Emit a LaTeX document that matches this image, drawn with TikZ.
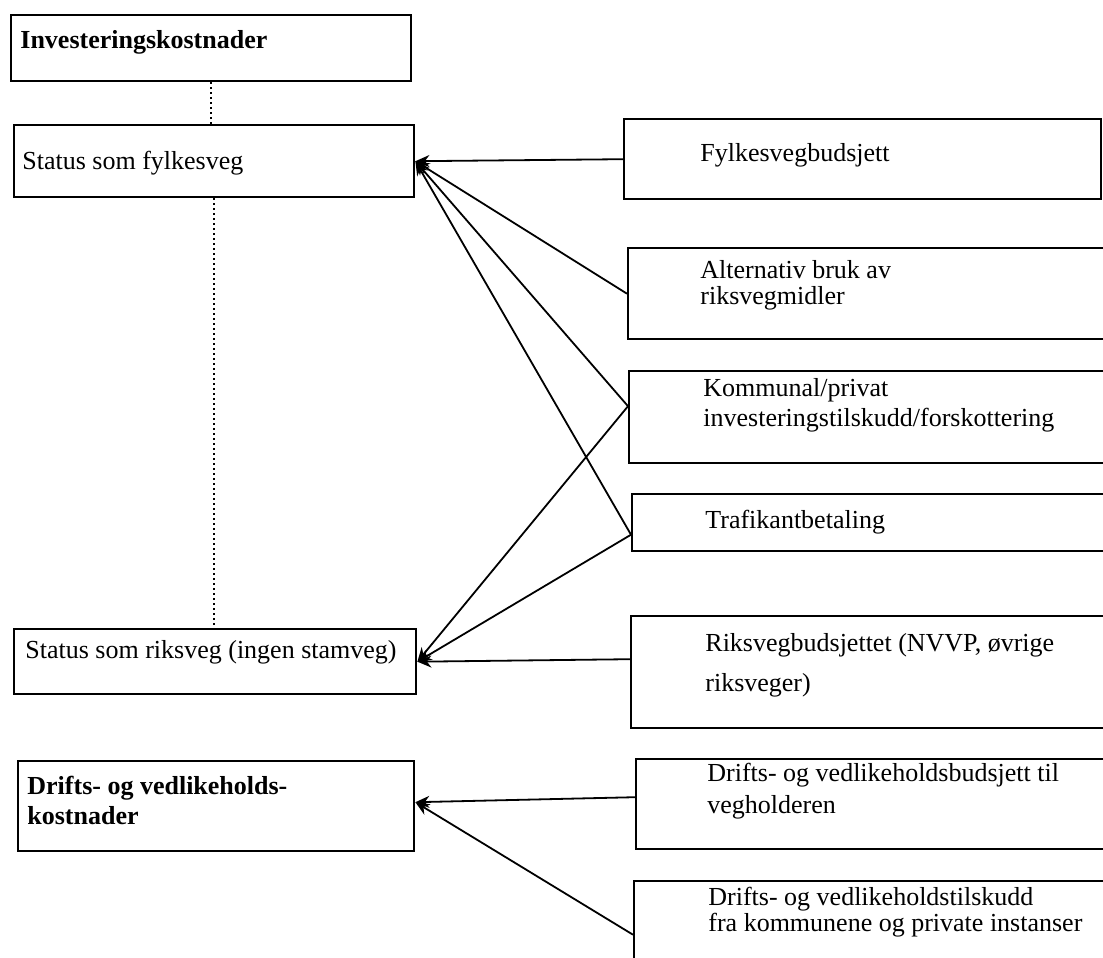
\documentclass[tikz,border=0pt]{standalone}
\usepackage{fontspec}
\setmainfont{Liberation Serif}
\usepackage{tikz}
\usetikzlibrary{arrows.meta}

\tikzset{
  box/.style={draw, line width=1.2pt, rectangle, inner sep=0pt, anchor=north west},
  lbl/.style={anchor=west, inner sep=0pt, align=left, font=\fontsize{13}{15}\selectfont},
  conn/.style={line width=0.9pt, -{Stealth[length=7pt,width=6pt]}},
  dots/.style={line width=0.9pt, dash pattern=on 0.9pt off 1.6pt}
}

\begin{document}
\begin{tikzpicture}[x=0.5pt,y=-0.5pt]
\useasboundingbox (0,0) rectangle (1103,958);
\clip (0,0) rectangle (1103,958);

%Shape: Rectangles, left column
\node[box, minimum width=200pt, minimum height=33pt] (invest) at (10,14) {};
\node[box, minimum width=200pt, minimum height=36pt] (stfylk) at (13,124) {};
\node[box, minimum width=201pt, minimum height=32.5pt] (striks) at (13,628) {};
\node[box, minimum width=198pt, minimum height=45pt] (drkost) at (17,760) {};

%Shape: Rectangles, right column
\node[box, minimum width=238.5pt, minimum height=40pt] (fbud) at (623,118) {};
\node[box, minimum width=244pt, minimum height=45.5pt] (altbruk) at (627,247) {};
\node[box, minimum width=243.5pt, minimum height=46pt] (kom) at (628,370) {};
\node[box, minimum width=242pt, minimum height=28.5pt] (traf) at (631,493) {};
\node[box, minimum width=242.5pt, minimum height=56pt] (rbud) at (630,615) {};
\node[box, minimum width=240pt, minimum height=45pt] (dbud) at (635,758) {};
\node[box, minimum width=241pt, minimum height=47.5pt] (dtil) at (633,880) {};

%Dotted Lines
\draw[dots] (invest.south) -- (invest.south |- stfylk.north);
\draw[dots] (stfylk.south) -- (stfylk.south |- striks.north);

%Straight Lines to status som fylkesveg
\draw[conn] (fbud.west) -- (stfylk.east);
\draw[conn] (altbruk.west) -- (stfylk.east);
\draw[conn] ([yshift=5.5pt]kom.west) -- (stfylk.east);
\draw[conn] ([yshift=-6pt]traf.west) -- (stfylk.east);
%Straight Lines to status som riksveg
\draw[conn] ([yshift=5.5pt]kom.west) -- (striks.east);
\draw[conn] ([yshift=-6pt]traf.west) -- (striks.east);
\draw[conn] ([yshift=6.5pt]rbud.west) -- (striks.east);
%Straight Lines to drifts- og vedlikeholdskostnader
\draw[conn] ([yshift=3.5pt]dbud.west) -- ([yshift=2pt]drkost.east);
\draw[conn] ([yshift=-3pt]dtil.west) -- ([yshift=2pt]drkost.east);

% Text Node
\node[lbl] (invest-t) at (20,42) {\textbf{Investeringskostnader}};
% Text Node
\node[lbl] (stfylk-t) at (22,163) {Status som fylkesveg};
% Text Node
\node[lbl] (striks-t) at (25,652) {Status som riksveg (ingen stamveg)};
% Text Node
\node[lbl, font=\fontsize{13}{15}\selectfont\bfseries] (drkost-t) at (27,800) {Drifts- og vedlikeholds-\\kostnader};
% Text Node
\node[lbl] (fbud-t) at (700,155) {Fylkesvegbudsjett};
% Text Node
\node[lbl] (altbruk-t) at (700,285) {Alternativ bruk av\\[-2pt]riksvegmidler};
% Text Node
\node[lbl] (kom-t) at (703,405) {Kommunal/privat\\investeringstilskudd/forskottering};
% Text Node
\node[lbl] (traf-t) at (705,522) {Trafikantbetaling};
% Text Node
\node[lbl] (rbud-t) at (705,665) {Riksvegbudsjettet (NVVP, øvrige\\[5pt]riksveger)};
% Text Node
\node[lbl] (dbud-t) at (707,791) {Drifts- og vedlikeholdsbudsjett til\\[1pt]vegholderen};
% Text Node
\node[lbl] (dtil-t) at (708,912) {Drifts- og vedlikeholdstilskudd\\[-2pt]fra kommunene og private instanser};

\end{tikzpicture}
\end{document}
